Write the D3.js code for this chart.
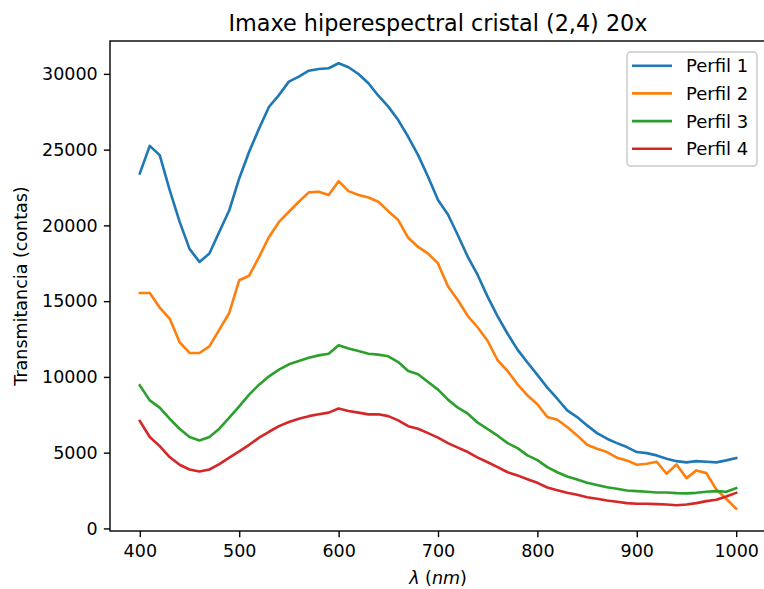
<!DOCTYPE html>
<html>
<head>
<meta charset="utf-8">
<script src="https://cdn.jsdelivr.net/npm/d3@7"></script>
<style>
  body { margin: 0; background: #fff; }
  text { font-family: "DejaVu Sans", sans-serif; fill: #000; }
</style>
</head>
<body>
<div id="chart"></div>
<script>
// wavelength (nm)
const lambda = [400, 410, 420, 430, 440, 450, 460, 470, 480, 490,
  500, 510, 520, 530, 540, 550, 560, 570, 580, 590,
  600, 610, 620, 630, 640, 650, 660, 670, 680, 690,
  700, 710, 720, 730, 740, 750, 760, 770, 780, 790,
  800, 810, 820, 830, 840, 850, 860, 870, 880, 890,
  900, 910, 920, 930, 940, 950, 960, 970, 980, 990, 1000];

const perfil1 = [23430, 25250, 24640, 22350, 20250, 18450, 17590, 18140, 19580, 21000,
  23100, 24860, 26400, 27830, 28600, 29490, 29820, 30210, 30320, 30370,
  30700, 30440, 29990, 29380, 28560, 27840, 26950, 25850, 24640, 23210,
  21670, 20720, 19350, 17920, 16710, 15280, 14000, 12850, 11800, 10950,
  10130, 9290, 8560, 7790, 7350, 6800, 6290, 5920, 5630, 5370,
  5040, 4970, 4820, 4600, 4440, 4360, 4440, 4400, 4360, 4490, 4640];

const perfil2 = [15540, 15540, 14580, 13850, 12300, 11580, 11580, 12020, 13120, 14220,
  16380, 16680, 17920, 19240, 20230, 20900, 21560, 22180, 22220, 22000,
  22920, 22260, 22000, 21840, 21560, 20940, 20350, 19180, 18580, 18140,
  17490, 15990, 15060, 14020, 13260, 12370, 11100, 10390, 9510, 8780,
  8200, 7350, 7170, 6690, 6140, 5520, 5260, 5040, 4670, 4490,
  4200, 4270, 4400, 3610, 4220, 3320, 3830, 3650, 2570, 1960, 1300];

const perfil3 = [9440, 8450, 7970, 7240, 6580, 6030, 5810, 6030, 6580, 7310,
  8060, 8830, 9490, 10040, 10480, 10830, 11050, 11270, 11420, 11530,
  12090, 11870, 11710, 11530, 11470, 11360, 10980, 10390, 10170, 9660,
  9160, 8500, 7970, 7570, 6980, 6560, 6120, 5630, 5300, 4820,
  4510, 4050, 3710, 3430, 3230, 3010, 2860, 2720, 2620, 2500,
  2460, 2420, 2370, 2370, 2330, 2310, 2350, 2420, 2460, 2420, 2660];

const perfil4 = [7090, 6030, 5430, 4710, 4200, 3890, 3760, 3890, 4240, 4670,
  5080, 5520, 5990, 6380, 6750, 7020, 7240, 7410, 7530, 7640,
  7920, 7750, 7640, 7530, 7530, 7410, 7130, 6750, 6580, 6290,
  5990, 5630, 5330, 5040, 4670, 4370, 4050, 3710, 3500, 3250,
  3010, 2700, 2520, 2350, 2220, 2060, 1960, 1840, 1760, 1670,
  1630, 1630, 1600, 1580, 1530, 1580, 1670, 1800, 1890, 2110, 2350];

const seriesNames = ['Perfil 1', 'Perfil 2', 'Perfil 3', 'Perfil 4'];
const xTicks = [400, 500, 600, 700, 800, 900, 1000];
const yTicks = [0, 5000, 10000, 15000, 20000, 25000, 30000];

const colors = ['#1f77b4', '#ff7f0e', '#2ca02c', '#d62728'];
const allSeries = [perfil1, perfil2, perfil3, perfil4];

const W = 764, H = 589;
const pt = 1.75;            // px per point
const fs = 10 * pt;         // base font size
const margin = { top: 41, right: -2, bottom: 58, left: 110 };
const width = W - margin.left - margin.right;
const height = H - margin.top - margin.bottom;

const svg = d3.select('#chart')
  .append('svg')
  .attr('width', W)
  .attr('height', H);

const g = svg.append('g')
  .attr('transform', `translate(${margin.left},${margin.top})`);

// matplotlib-like 5% margins
const xMin = d3.min(lambda), xMax = d3.max(lambda);
const xPad = (xMax - xMin) * 0.05;
const x = d3.scaleLinear().domain([xMin - xPad, xMax + xPad]).range([0, width]);

const yMin = d3.min(allSeries, s => d3.min(s));
const yMax = d3.max(allSeries, s => d3.max(s));
const yPad = (yMax - yMin) * 0.05;
const y = d3.scaleLinear().domain([yMin - yPad, yMax + yPad]).range([height, 0]);

// lines
const line = d3.line()
  .x((d, i) => x(lambda[i]))
  .y(d => y(d));

allSeries.forEach((s, k) => {
  g.append('path')
    .datum(s)
    .attr('fill', 'none')
    .attr('stroke', colors[k])
    .attr('stroke-width', 1.5 * pt)
    .attr('stroke-linejoin', 'round')
    .attr('stroke-linecap', 'square')
    .attr('d', line);
});

// axes
const tickLen = 3.5 * pt;
const xAxis = g.append('g')
  .attr('transform', `translate(0,${height})`)
  .call(d3.axisBottom(x).tickValues(xTicks).tickSize(tickLen).tickPadding(3.5 * pt).tickFormat(d3.format('d')));
const yAxis = g.append('g')
  .call(d3.axisLeft(y).tickValues(yTicks).tickSize(tickLen).tickPadding(3.5 * pt).tickFormat(d3.format('d')));

[xAxis, yAxis].forEach(a => {
  a.select('.domain').remove();
  a.selectAll('line').attr('stroke', '#000').attr('stroke-width', 0.8 * pt);
  a.selectAll('text')
    .style('font-family', '"DejaVu Sans", sans-serif')
    .style('font-size', fs + 'px')
    .attr('fill', '#000');
});
xAxis.selectAll('text').attr('dy', '0.76em');

// spines
g.append('rect')
  .attr('x', 0).attr('y', 0)
  .attr('width', width).attr('height', height)
  .attr('fill', 'none')
  .attr('stroke', '#000')
  .attr('stroke-width', 0.8 * pt);

// title
svg.append('text')
  .attr('x', margin.left + width / 2)
  .attr('y', margin.top - 6 * pt)
  .attr('text-anchor', 'middle')
  .style('font-size', '22.3px')
  .text('Imaxe hiperespectral cristal (2,4) 20x');

// x label
const xl = svg.append('text')
  .attr('x', margin.left + width / 2)
  .attr('y', 584)
  .attr('text-anchor', 'middle')
  .style('font-size', fs + 'px');
xl.append('tspan').style('font-style', 'italic').text('λ');
xl.append('tspan').text(' (');
xl.append('tspan').style('font-style', 'italic').text('nm');
xl.append('tspan').text(')');

// y label
svg.append('text')
  .attr('transform', `translate(27,${margin.top + height / 2}) rotate(-90)`)
  .attr('text-anchor', 'middle')
  .style('font-size', fs + 'px')
  .text('Transmitancia (contas)');

// legend
const lgFs = 18;
const lgX = 627, lgY = 52, lgW = 130, lgH = 114;
const rowH = 27.7, handleLen = 40;
const lg = svg.append('g').attr('transform', `translate(${lgX},${lgY})`);
lg.append('rect')
  .attr('width', lgW).attr('height', lgH)
  .attr('rx', 3.5).attr('ry', 3.5)
  .attr('fill', '#fff').attr('fill-opacity', 0.8)
  .attr('stroke', '#cccccc').attr('stroke-width', 1.5);
seriesNames.forEach((name, k) => {
  const cy = 13.7 + k * rowH;
  lg.append('line')
    .attr('x1', 5).attr('x2', 5 + handleLen)
    .attr('y1', cy).attr('y2', cy)
    .attr('stroke', colors[k]).attr('stroke-width', 1.5 * pt);
  lg.append('text')
    .attr('x', 59)
    .attr('y', cy)
    .attr('dy', '0.36em')
    .style('font-size', lgFs + 'px')
    .text(name);
});
</script>
</body>
</html>
